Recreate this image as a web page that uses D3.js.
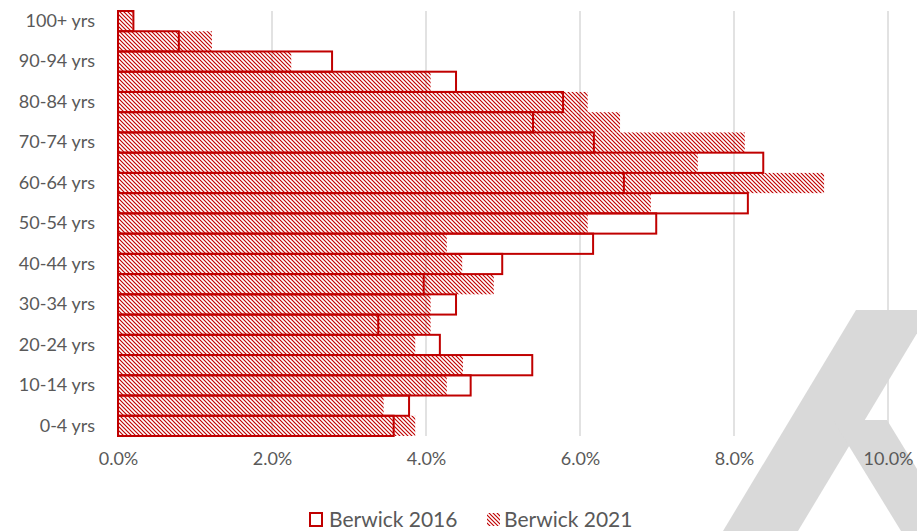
<!DOCTYPE html>
<html>
<head>
<meta charset="utf-8">
<script src="https://cdn.jsdelivr.net/npm/d3@7"></script>
<style>
  body { margin: 0; background: #fff; }
  svg { display: block; font-family: Lato, "Open Sans", sans-serif; }
</style>
</head>
<body>
<svg width="917" height="531"></svg>
<script>
// age groups, bottom to top
const ageGroups = ["0-4 yrs", "5-9 yrs", "10-14 yrs", "15-19 yrs", "20-24 yrs", "25-29 yrs",
    "30-34 yrs", "35-39 yrs", "40-44 yrs", "45-49 yrs", "50-54 yrs", "55-59 yrs",
    "60-64 yrs", "65-69 yrs", "70-74 yrs", "75-79 yrs", "80-84 yrs", "85-89 yrs",
    "90-94 yrs", "95-99 yrs", "100+ yrs"];

// share of population (%)
const berwick2016 = [3.58, 3.78, 4.58, 5.38, 4.18, 3.38, 4.39, 3.97, 4.99, 6.17, 6.99, 8.18,
    6.57, 8.38, 6.18, 5.39, 5.78, 4.39, 2.78, 0.79, 0.20];
const berwick2021 = [3.86, 3.45, 4.27, 4.48, 3.86, 4.06, 4.06, 4.88, 4.47, 4.27, 6.10, 6.92,
    9.17, 7.53, 8.14, 6.52, 6.10, 4.06, 2.25, 1.22, 0.19];

const xTicks = [0, 2, 4, 6, 8, 10];
const shownLabels = ageGroups.filter((d, i) => i % 2 === 0);

const red = "#c00000";
const textColor = "#595959";

const svg = d3.select("svg");

// watermark shape at bottom right
const mark = svg.append("g").attr("fill", "#d9d9d9");
mark.append("polygon").attr("points", "723,531 798,531 931,310 856,310");
mark.append("polygon").attr("points", "833,420 887,420 955,531 901,531");

const x = d3.scaleLinear().domain([0, 10]).range([118, 888]);
const y = d3.scaleBand().domain(ageGroups).range([436, 11]).padding(0);

// downward diagonal hatch
const defs = svg.append("defs");
const pat = defs.append("pattern")
    .attr("id", "hatch")
    .attr("patternUnits", "userSpaceOnUse")
    .attr("width", 4).attr("height", 4);
pat.append("path")
    .attr("d", "M-1,-1 L5,5 M-1,3 L1,5 M3,-1 L5,1")
    .attr("stroke", red)
    .attr("stroke-width", 1.15);

// gridlines
svg.append("g")
    .selectAll("line")
    .data(xTicks.slice(1))
    .join("line")
    .attr("x1", d => x(d)).attr("x2", d => x(d))
    .attr("y1", 11).attr("y2", 436)
    .attr("stroke", "#d9d9d9")
    .attr("stroke-width", 1.5);

// 2021 hatched bars
svg.append("g")
    .selectAll("rect")
    .data(berwick2021)
    .join("rect")
    .attr("x", x(0))
    .attr("y", (d, i) => y(ageGroups[i]))
    .attr("width", d => x(d) - x(0))
    .attr("height", y.bandwidth())
    .attr("fill", "url(#hatch)");

// vertical axis line
svg.append("line")
    .attr("x1", x(0)).attr("x2", x(0))
    .attr("y1", 11).attr("y2", 436)
    .attr("stroke", "#d9d9d9")
    .attr("stroke-width", 1);

// 2016 outline bars
svg.append("g")
    .selectAll("rect")
    .data(berwick2016)
    .join("rect")
    .attr("x", x(0))
    .attr("y", (d, i) => y(ageGroups[i]))
    .attr("width", d => x(d) - x(0))
    .attr("height", y.bandwidth())
    .attr("fill", "none")
    .attr("stroke", red)
    .attr("stroke-width", 2);

// y axis labels
const yAxis = svg.append("g")
    .attr("transform", "translate(" + (x(0) - 23) + ",0)")
    .call(d3.axisLeft(y).tickValues(shownLabels).tickSize(0).tickPadding(0));
yAxis.select(".domain").remove();
yAxis.selectAll("text")
    .attr("fill", textColor)
    .style("font-size", "18px")
    .style("font-family", "Lato, 'Open Sans', sans-serif");

// x axis labels
const xAxis = svg.append("g")
    .attr("transform", "translate(0,452)")
    .call(d3.axisBottom(x).tickValues(xTicks).tickSize(0).tickPadding(0)
        .tickFormat(d => d.toFixed(1) + "%"));
xAxis.select(".domain").remove();
xAxis.selectAll("text")
    .attr("fill", textColor)
    .style("font-size", "18px")
    .style("font-family", "Lato, 'Open Sans', sans-serif");

// legend
const legend = svg.append("g").attr("font-size", 21).attr("fill", textColor);
legend.append("rect")
    .attr("x", 310).attr("y", 513)
    .attr("width", 12).attr("height", 13)
    .attr("fill", "none").attr("stroke", red).attr("stroke-width", 2);
legend.append("text").attr("x", 329).attr("y", 527).text("Berwick 2016");
legend.append("rect")
    .attr("x", 487).attr("y", 513)
    .attr("width", 13).attr("height", 13)
    .attr("fill", "url(#hatch)");
legend.append("text").attr("x", 504).attr("y", 527).text("Berwick 2021");
</script>
</body>
</html>
